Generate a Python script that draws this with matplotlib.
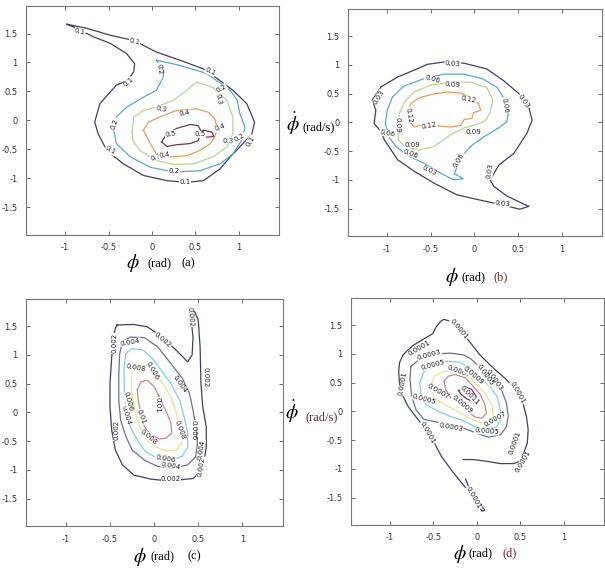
import numpy as np
import matplotlib.pyplot as plt

plt.rcParams["mathtext.fontset"] = "stix"
plt.rcParams["font.family"] = "DejaVu Sans"

# ---- panel (a): contour lines, (phi, phidot) vertices
a_01 = [(-0.98, 1.66), (-0.75, 1.59), (-0.48, 1.47), (-0.21, 1.38), (0.05, 1.18),
        (0.32, 1.04), (0.59, 0.89), (0.78, 0.69), (0.93, 0.52), (1.09, 0.29),
        (1.18, -0.03), (1.15, -0.23), (1.01, -0.46), (0.90, -0.63), (0.78, -0.84),
        (0.59, -1.04), (0.40, -1.07), (0.17, -1.04), (-0.10, -0.95), (-0.33, -0.75),
        (-0.52, -0.52), (-0.62, -0.23), (-0.66, -0.03), (-0.60, 0.29), (-0.41, 0.61),
        (-0.28, 0.69), (-0.21, 0.84), (-0.20, 0.98), (-0.29, 1.15), (-0.48, 1.33),
        (-0.67, 1.44), (-0.87, 1.59)]
a_02 = [(0.05, 1.04), (0.32, 0.95), (0.63, 0.81), (0.90, 0.52), (0.98, 0.35),
        (1.01, 0.12), (1.07, -0.12), (1.03, -0.35), (0.93, -0.58), (0.78, -0.75),
        (0.55, -0.87), (0.25, -0.89), (-0.02, -0.81), (-0.25, -0.63), (-0.41, -0.40),
        (-0.44, -0.17), (-0.41, 0.06), (-0.29, 0.23), (-0.10, 0.40), (0.05, 0.52),
        (0.13, 0.75), (0.13, 0.87)]
a_03 = [(-0.23, -0.20), (-0.21, 0.06), (-0.10, 0.17), (0.05, 0.23), (0.25, 0.35),
        (0.40, 0.52), (0.51, 0.66), (0.70, 0.57), (0.86, 0.35), (0.93, 0.06),
        (0.93, -0.23), (0.86, -0.46), (0.70, -0.63), (0.48, -0.75), (0.25, -0.76),
        (0.05, -0.69), (-0.14, -0.52), (-0.22, -0.35)]
a_04 = [(-0.10, -0.17), (-0.04, -0.03), (0.09, 0.06), (0.28, 0.17), (0.51, 0.20),
        (0.65, 0.14), (0.72, 0.03), (0.75, -0.12), (0.72, -0.29), (0.67, -0.40),
        (0.55, -0.52), (0.40, -0.61), (0.21, -0.63), (0.05, -0.58), (-0.02, -0.40)]
a_05 = [(0.11, -0.37), (0.17, -0.23), (0.28, -0.14), (0.44, -0.07), (0.53, -0.09),
        (0.57, -0.20), (0.53, -0.35), (0.44, -0.40), (0.28, -0.42), (0.17, -0.45)]
a_05b = [(0.51, -0.24), (0.59, -0.17), (0.69, -0.20), (0.71, -0.28), (0.61, -0.29)]
a_labels = [(-0.83, 1.53, "0.1", -15), (-0.20, 1.37, "0.1", -15), (0.67, 0.84, "0.1", -25),
            (-0.27, 0.66, "0.1", 40), (1.13, -0.35, "0.1", 60), (-0.48, -0.52, "0.1", -30),
            (0.38, -1.07, "0.1", 0), (0.08, 0.89, "0.2", -80), (0.80, 0.55, "0.2", 30),
            (-0.43, -0.06, "0.2", 70), (1.01, -0.29, "0.2", 30), (0.25, -0.87, "0.2", 0),
            (0.76, 0.37, "0.3", -80), (0.11, 0.20, "0.3", -10), (0.88, -0.35, "0.3", 0),
            (0.05, -0.63, "0.3", 20), (0.38, 0.12, "0.4", 10), (0.78, -0.12, "0.4", 20),
            (0.14, -0.59, "0.4", 10), (0.21, -0.23, "0.5", 10), (0.55, -0.24, "0.5", 0)]

# ---- panel (b)
b_03 = [(0.62, -1.46), (0.52, -1.51), (0.30, -1.43), (0.03, -1.34), (-0.20, -1.26),
        (-0.46, -1.06), (-0.69, -0.85), (-0.88, -0.65), (-1.03, -0.31), (-1.07, -0.16),
        (-1.15, -0.02), (-1.13, 0.21), (-1.17, 0.39), (-1.07, 0.62), (-0.88, 0.79),
        (-0.69, 0.91), (-0.54, 1.01), (-0.35, 1.05), (-0.12, 1.03), (0.14, 0.93),
        (0.33, 0.73), (0.51, 0.50), (0.62, 0.27), (0.66, 0.04), (0.60, -0.19),
        (0.45, -0.54), (0.28, -0.74), (0.18, -1.00), (0.22, -1.11), (0.37, -1.28)]
b_06 = [(-1.02, -0.02), (-1.00, 0.21), (-0.94, 0.44), (-0.81, 0.63), (-0.58, 0.76),
        (-0.35, 0.84), (-0.12, 0.84), (0.09, 0.76), (0.26, 0.61), (0.35, 0.39),
        (0.39, 0.18), (0.37, 0.01), (0.28, -0.09), (0.11, -0.25), (-0.05, -0.42),
        (-0.14, -0.59), (-0.20, -0.77), (-0.23, -0.89), (-0.13, -0.98), (-0.24, -1.00),
        (-0.39, -0.88), (-0.58, -0.71), (-0.77, -0.57), (-0.90, -0.42), (-0.98, -0.25)]
b_09 = [(-0.88, -0.16), (-0.86, 0.16), (-0.80, 0.36), (-0.69, 0.53), (-0.50, 0.65),
        (-0.27, 0.70), (-0.05, 0.70), (0.14, 0.61), (0.21, 0.39), (0.18, 0.18),
        (0.13, 0.03), (-0.01, -0.05), (-0.12, -0.10), (-0.25, -0.19), (-0.37, -0.32),
        (-0.48, -0.43), (-0.64, -0.48), (-0.80, -0.42), (-0.87, -0.31)]
b_12 = [(-0.77, 0.21), (-0.72, 0.34), (-0.63, 0.43), (-0.48, 0.49), (-0.31, 0.53),
        (-0.16, 0.51), (-0.05, 0.44), (0.05, 0.32), (0.07, 0.21), (-0.01, 0.17),
        (-0.03, 0.07), (-0.12, 0.05), (-0.16, -0.05), (-0.27, -0.08), (-0.43, -0.06),
        (-0.58, -0.03), (-0.69, -0.08), (-0.76, 0.04)]
b_labels = [(-0.25, 1.02, "0.03", -5), (-1.10, 0.44, "0.03", 60), (0.56, 0.36, "0.03", -55),
            (0.18, -0.85, "0.03", 80), (-0.52, -0.83, "0.03", -25), (0.32, -1.41, "0.03", -5),
            (-0.48, 0.76, "0.06", -15), (0.35, 0.30, "0.06", -80), (-1.00, -0.19, "0.06", -10),
            (-0.73, -0.54, "0.06", -20), (-0.18, -0.65, "0.06", 60), (-0.25, 0.65, "0.09", -5),
            (-0.01, -0.16, "0.09", 0), (-0.71, -0.39, "0.09", 0), (-0.88, -0.05, "0.09", -90),
            (-0.07, 0.40, "0.12", -10), (-0.75, 0.13, "0.12", -80), (-0.52, -0.05, "0.12", 10)]

# ---- panel (c)
c_002 = [(-0.42, 1.52), (-0.23, 1.53), (-0.08, 1.49), (0.04, 1.37), (0.15, 1.23),
         (0.27, 1.05), (0.38, 0.88), (0.43, 1.00), (0.44, 1.31), (0.42, 1.60),
         (0.40, 1.75), (0.46, 1.75), (0.50, 1.60), (0.52, 1.14), (0.53, 0.50),
         (0.55, 0.10), (0.59, -0.25), (0.59, -0.60), (0.55, -1.00), (0.44, -1.15),
         (0.31, -1.17), (0.15, -1.19), (-0.04, -1.16), (-0.23, -1.09), (-0.36, -0.91),
         (-0.44, -0.65), (-0.48, -0.31), (-0.50, 0.10), (-0.50, 0.50), (-0.48, 0.97),
         (-0.46, 1.31), (-0.44, 1.46)]
c_004 = [(-0.36, 1.23), (-0.27, 1.31), (-0.11, 1.30), (0.04, 1.14), (0.19, 0.85),
         (0.32, 0.59), (0.40, 0.33), (0.44, 0.04), (0.47, -0.25), (0.49, -0.54),
         (0.47, -0.77), (0.38, -0.91), (0.23, -0.97), (0.04, -0.94), (-0.11, -0.83),
         (-0.25, -0.65), (-0.32, -0.42), (-0.38, -0.13), (-0.40, 0.21), (-0.40, 0.68),
         (-0.39, 1.02)]
c_006 = [(-0.32, 1.02), (-0.25, 1.11), (-0.13, 1.09), (-0.02, 0.94), (0.08, 0.73),
         (0.19, 0.50), (0.29, 0.21), (0.34, -0.08), (0.38, -0.36), (0.38, -0.60),
         (0.32, -0.76), (0.19, -0.83), (0.04, -0.80), (-0.10, -0.68), (-0.19, -0.48),
         (-0.27, -0.25), (-0.31, 0.04), (-0.34, 0.39), (-0.34, 0.79)]
c_008 = [(-0.25, 0.68), (-0.19, 0.82), (-0.10, 0.82), (0.00, 0.71), (0.10, 0.50),
         (0.19, 0.27), (0.25, -0.02), (0.29, -0.31), (0.31, -0.54), (0.25, -0.65),
         (0.13, -0.67), (0.02, -0.60), (-0.08, -0.48), (-0.15, -0.31), (-0.21, -0.02),
         (-0.25, 0.27), (-0.26, 0.50)]
c_010 = [(-0.19, 0.39), (-0.15, 0.53), (-0.08, 0.56), (0.00, 0.45), (0.06, 0.27),
         (0.13, 0.04), (0.19, -0.19), (0.20, -0.36), (0.13, -0.45), (0.06, -0.46),
         (-0.04, -0.39), (-0.11, -0.25), (-0.15, -0.02), (-0.18, 0.21)]
c_labels = [(0.41, 1.66, "0.002", -85), (-0.45, 1.20, "0.002", 90), (0.10, 1.26, "0.002", -40),
            (0.58, 0.62, "0.002", -90), (-0.43, -0.31, "0.002", 90), (0.19, -1.16, "0.002", 0),
            (0.53, -0.94, "0.002", 80), (-0.27, 1.22, "0.004", 10), (0.29, 0.50, "0.004", -55),
            (-0.32, -0.05, "0.004", -75), (0.19, -0.92, "0.004", -10), (0.53, -0.65, "0.004", 80),
            (-0.21, 0.77, "0.008", -10), (-0.02, 0.73, "0.006", -60), (-0.29, 0.19, "0.006", -75),
            (0.44, -0.31, "0.006", -90), (0.13, -0.80, "0.006", -10), (0.04, 0.13, "0.01", -90),
            (-0.15, -0.08, "0.01", -70), (-0.06, -0.42, "0.008", -40), (0.29, -0.31, "0.008", -70)]

# ---- panel (d)
d_0001 = [(-0.16, -0.84), (-0.04, -0.84), (0.11, -0.87), (0.27, -0.91), (0.42, -0.91),
          (0.50, -0.87), (0.54, -0.72), (0.58, -0.55), (0.59, -0.32), (0.57, -0.09),
          (0.53, 0.14), (0.45, 0.35), (0.34, 0.55), (0.19, 0.75), (0.04, 0.97),
          (-0.09, 1.22), (-0.21, 1.42), (-0.30, 1.56), (-0.38, 1.60), (-0.42, 1.56),
          (-0.47, 1.46), (-0.51, 1.35), (-0.61, 1.26), (-0.74, 1.14), (-0.85, 0.98),
          (-0.89, 0.85), (-0.90, 0.69), (-0.89, 0.46), (-0.85, 0.26), (-0.79, 0.08),
          (-0.70, -0.10), (-0.61, -0.27), (-0.53, -0.43), (-0.47, -0.61), (-0.41, -0.78),
          (-0.30, -1.01), (-0.19, -1.22), (-0.08, -1.42), (0.04, -1.62), (0.09, -1.72),
          (0.06, -1.74), (0.00, -1.62), (-0.06, -1.46), (-0.09, -1.33), (-0.13, -1.18)]
d_0003 = [(-0.76, 0.78), (-0.64, 0.93), (-0.49, 1.00), (-0.30, 1.01), (-0.15, 0.98),
          (-0.06, 0.90), (0.06, 0.72), (0.19, 0.55), (0.28, 0.38), (0.34, 0.14),
          (0.36, -0.09), (0.34, -0.27), (0.27, -0.41), (0.13, -0.45), (-0.04, -0.36),
          (-0.19, -0.27), (-0.42, -0.20), (-0.61, -0.14), (-0.70, 0.02), (-0.75, 0.26),
          (-0.77, 0.55)]
d_0005 = [(-0.66, 0.49), (-0.61, 0.69), (-0.49, 0.81), (-0.34, 0.87), (-0.19, 0.85),
          (-0.08, 0.75), (0.04, 0.58), (0.15, 0.43), (0.23, 0.26), (0.27, 0.03),
          (0.27, -0.14), (0.23, -0.27), (0.11, -0.32), (-0.02, -0.27), (-0.15, -0.17),
          (-0.30, -0.09), (-0.45, 0.00), (-0.59, 0.12), (-0.64, 0.29)]
d_0007 = [(-0.53, 0.43), (-0.49, 0.61), (-0.38, 0.69), (-0.23, 0.71), (-0.11, 0.64),
          (-0.02, 0.49), (0.09, 0.32), (0.17, 0.12), (0.19, -0.09), (0.13, -0.20),
          (0.04, -0.20), (-0.09, -0.12), (-0.23, 0.00), (-0.38, 0.12), (-0.49, 0.23)]
d_0009 = [(-0.38, 0.52), (-0.33, 0.61), (-0.25, 0.64), (-0.13, 0.58), (-0.06, 0.46),
          (0.04, 0.29), (0.09, 0.12), (0.11, -0.03), (0.06, -0.12), (-0.02, -0.10),
          (-0.11, 0.00), (-0.21, 0.12), (-0.30, 0.23), (-0.36, 0.38)]
d_0011 = [(-0.21, 0.36), (-0.13, 0.42), (-0.06, 0.38), (-0.01, 0.26), (-0.03, 0.17),
          (-0.11, 0.21), (-0.18, 0.29)]
d_labels = [(-0.21, 1.42, "0.0001", -50), (-0.66, 1.10, "0.0001", 30), (-0.85, 0.49, "0.0001", 80),
            (-0.57, -0.38, "0.0001", -60), (0.53, -0.87, "0.0001", 60), (-0.04, -1.51, "0.0001", -60),
            (0.47, 0.32, "0.0001", -60), (0.44, -0.55, "0.0001", 70),
            (-0.55, 0.98, "0.0003", 15), (-0.30, -0.27, "0.0003", -10), (0.20, 0.55, "0.0003", -55),
            (-0.51, 0.80, "0.0005", 15), (-0.61, 0.21, "0.0005", -15), (0.11, -0.35, "0.0005", -5),
            (0.09, 0.64, "0.0005", -55), (-0.21, 0.70, "0.0007", -20), (-0.45, 0.35, "0.0007", -30),
            (0.21, -0.14, "0.0007", 30), (-0.04, 0.62, "0.0009", -40), (-0.17, 0.12, "0.0009", -40),
            (-0.08, 0.28, "0.0011", -45)]

xticks = [-1, -0.5, 0, 0.5, 1]
xtick_labels = ["-1", "-0.5", "0", "0.5", "1"]
yticks = [-1.5, -1, -0.5, 0, 0.5, 1, 1.5]
ytick_labels = ["-1.5", "-1", "-0.5", "0", "0.5", "1", "1.5"]

# level colours (low -> high), muted MATLAB-like
C_DARK = "#3e4160"
C_SLATE = "#6a7394"
C_BLUE = "#58a8cc"
C_CYAN = "#7fd2dc"
C_GREEN = "#b4d894"
C_YELLOW = "#e6e596"
C_ORANGE = "#e89a5c"
C_PINK = "#c8868a"
C_BROWN = "#7a3450"

panels = [
    ([0.043, 0.589, 0.418, 0.400],
     [(a_01, C_DARK, True), (a_02, C_BLUE, True), (a_03, C_GREEN, True),
      (a_04, C_ORANGE, True), (a_05, C_BROWN, True), (a_05b, C_BROWN, True)], a_labels),
    ([0.575, 0.587, 0.420, 0.397],
     [(b_03, C_DARK, True), (b_06, C_BLUE, True), (b_09, C_GREEN, True),
      (b_12, C_ORANGE, True)], b_labels),
    ([0.043, 0.080, 0.425, 0.397],
     [(c_002, C_DARK, True), (c_004, C_SLATE, True), (c_006, C_CYAN, True),
      (c_008, C_YELLOW, True), (c_010, C_PINK, True)], c_labels),
    ([0.580, 0.082, 0.418, 0.397],
     [(d_0001, C_DARK, False), (d_0003, C_SLATE, True), (d_0005, C_CYAN, True),
      (d_0007, C_YELLOW, True), (d_0009, C_PINK, True), (d_0011, C_BROWN, True)], d_labels),
]

fig = plt.figure(figsize=(6.05, 5.72), dpi=100)

for rect, lines, labels in panels:
    ax = fig.add_axes(rect)
    for pts, col, closed in lines:
        p = np.array(pts + [pts[0]] if closed else pts)
        ax.plot(p[:, 0], p[:, 1], color=col, lw=0.9, solid_joinstyle="round")
    for x, y, s, rot in labels:
        ax.text(x, y, s, fontsize=5, rotation=rot, ha="center", va="center",
                color="#222222", rotation_mode="anchor",
                bbox=dict(facecolor="white", edgecolor="none", pad=0.2))
    ax.set_xlim(-1.45, 1.46)
    ax.set_ylim(-1.98, 1.97)
    ax.set_xticks(xticks)
    ax.set_xticklabels(xtick_labels)
    ax.set_yticks(yticks)
    ax.set_yticklabels(ytick_labels)
    ax.tick_params(direction="in", length=3, width=0.6, labelsize=6,
                   colors="#555555", labelcolor="#333333", pad=6,
                   top=True, right=True)
    for sp in ax.spines.values():
        sp.set_color("#777777")
        sp.set_linewidth(0.8)

# axis captions drawn as figure text
serif = "Liberation Serif"
captions = [
    (0.220, 0.263, 0.312, 0.540, "(a)", "black"),
    (0.747, 0.783, 0.828, 0.516, "(b)", "#6a2a2a"),
    (0.231, 0.268, 0.321, 0.027, "(c)", "black"),
    (0.760, 0.795, 0.843, 0.032, "(d)", "#6a2a2a"),
]
for xp, xr, xl, yy, tag, tcol in captions:
    fig.text(xp, yy, r"$\phi$", fontsize=14, ha="center", va="center")
    fig.text(xr, yy, "(rad)", fontsize=9, family=serif, ha="center", va="center")
    fig.text(xl, yy, tag, fontsize=9, family=serif, ha="center", va="center", color=tcol)

fig.text(0.484, 0.783, r"$\dot{\phi}$", fontsize=14, ha="center", va="center")
fig.text(0.527, 0.778, "(rad/s)", fontsize=9, family=serif, ha="center", va="center")
fig.text(0.483, 0.280, r"$\dot{\phi}$", fontsize=14, ha="center", va="center")
fig.text(0.532, 0.271, "(rad/s)", fontsize=9, family=serif, ha="center", va="center",
         color="#6a2a2a")

fig.savefig("out.png", dpi=100, facecolor="white")
